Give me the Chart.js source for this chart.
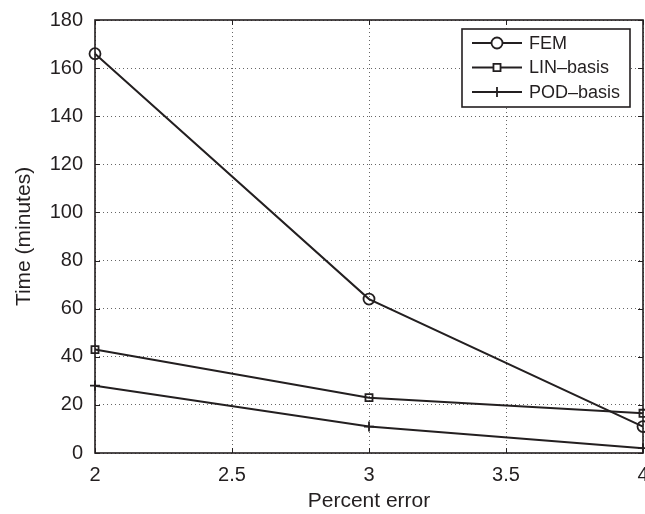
<!DOCTYPE html>
<html>
<head>
<meta charset="utf-8">
<script src="https://cdn.jsdelivr.net/npm/chart.js@4.4.1/dist/chart.umd.min.js"></script>
<style>
  html, body { margin: 0; padding: 0; background: #fff; overflow: hidden; }
  #wrap { width: 645px; height: 514px; }
</style>
</head>
<body>
<div id="wrap"><canvas id="timeChart" width="645" height="514"></canvas></div>
<script>
// values
const percentError = [2, 3, 4];
const femTime = [166, 64, 11];
const linTime = [43, 23, 16.5];
const podTime = [28, 11, 2];
const seriesNames = ['FEM', 'LIN\u2013basis', 'POD\u2013basis'];
const markerStyles = ['circle', 'rect', 'cross'];
const xTicks = [2, 2.5, 3, 3.5, 4];
const yTicks = [0, 20, 40, 60, 80, 100, 120, 140, 160, 180];

const ink = '#231f20';
const fontFam = '"Liberation Sans", Arial, sans-serif';

function toPoints(ys) {
    return percentError.map((x, i) => ({x: x, y: ys[i]}));
}

function makeSet(label, ys, style) {
    return {
        label: label,
        data: toPoints(ys),
        borderColor: ink,
        backgroundColor: 'rgba(0,0,0,0)',
        borderWidth: 2,
        pointStyle: style,
        pointRadius: style === 'circle' ? 5.5 : 5,
        pointBorderWidth: 1.8,
        pointBorderColor: ink,
        pointBackgroundColor: 'rgba(0,0,0,0)',
        tension: 0,
        clip: false
    };
}

// frame, inward ticks and an inside legend, matlab style
const framePlugin = {
    id: 'frame',
    afterDraw(chart) {
        const ctx = chart.ctx;
        const a = chart.chartArea;
        const xs = chart.scales.x, ys = chart.scales.y;
        ctx.save();
        ctx.strokeStyle = ink;
        ctx.lineWidth = 1.6;
        ctx.strokeRect(a.left, a.top, a.right - a.left, a.bottom - a.top);
        ctx.lineWidth = 1;
        ctx.beginPath();
        xTicks.forEach(v => {
            const px = Math.round(xs.getPixelForValue(v)) + 0.5;
            ctx.moveTo(px, a.bottom); ctx.lineTo(px, a.bottom - 5);
            ctx.moveTo(px, a.top); ctx.lineTo(px, a.top + 5);
        });
        yTicks.forEach(v => {
            const py = Math.round(ys.getPixelForValue(v)) + 0.5;
            ctx.moveTo(a.left, py); ctx.lineTo(a.left + 5, py);
            ctx.moveTo(a.right, py); ctx.lineTo(a.right - 5, py);
        });
        ctx.stroke();

        // legend box
        const bx = 462, by = 29, bw = 168, bh = 78;
        ctx.fillStyle = '#fff';
        ctx.fillRect(bx, by, bw, bh);
        ctx.lineWidth = 1.6;
        ctx.strokeRect(bx, by, bw, bh);
        ctx.textBaseline = 'middle';
        chart.data.datasets.forEach((ds, i) => {
            const y = by + 14 + i * 24.5;
            ctx.lineWidth = 2;
            ctx.strokeStyle = ink;
            ctx.beginPath();
            ctx.moveTo(bx + 10, y); ctx.lineTo(bx + 60, y);
            ctx.stroke();
            ctx.fillStyle = '#fff';
            ctx.lineWidth = 1.8;
            Chart.helpers.drawPoint(ctx, {
                pointStyle: ds.pointStyle, radius: ds.pointRadius, rotation: 0, borderWidth: 1.8
            }, bx + 35, y);
            ctx.fillStyle = ink;
            ctx.font = '18px ' + fontFam;
            ctx.fillText(ds.label, bx + 67, y + 1);
        });
        ctx.restore();
    }
};

new Chart(document.getElementById('timeChart').getContext('2d'), {
    type: 'line',
    data: {
        datasets: [
            makeSet(seriesNames[0], femTime, markerStyles[0]),
            makeSet(seriesNames[1], linTime, markerStyles[1]),
            makeSet(seriesNames[2], podTime, markerStyles[2])
        ]
    },
    options: {
        responsive: false,
        animation: false,
        layout: {autoPadding: false, padding: {top: 20, right: 2, left: 0, bottom: 0}},
        plugins: {
            legend: {display: false},
            tooltip: {enabled: false}
        },
        scales: {
            x: {
                type: 'linear',
                min: 2, max: 4,
                afterBuildTicks: s => { s.ticks = xTicks.map(v => ({value: v})); },
                afterFit: s => { s.height = 61; s.paddingLeft = 0; s.paddingRight = 0; },
                grid: {color: '#666', lineWidth: 1, drawTicks: false},
                border: {display: false, dash: [1, 3]},
                ticks: {
                    color: ink, padding: 10, maxRotation: 0, autoSkip: false,
                    font: {family: fontFam, size: 20},
                    callback: v => String(v)
                },
                title: {
                    display: true, text: 'Percent error', color: ink,
                    font: {family: fontFam, size: 21}, padding: {top: 0, bottom: 0}
                }
            },
            y: {
                min: 0, max: 180,
                afterBuildTicks: s => { s.ticks = yTicks.map(v => ({value: v})); },
                afterFit: s => { s.width = 95; s.paddingTop = 0; s.paddingBottom = 0; },
                grid: {color: '#666', lineWidth: 1, drawTicks: false},
                border: {display: false, dash: [1, 3]},
                ticks: {
                    color: ink, padding: 12,
                    font: {family: fontFam, size: 20},
                    callback: v => String(v)
                },
                title: {
                    display: true, text: 'Time (minutes)', color: ink,
                    font: {family: fontFam, size: 21}, padding: {top: 12, bottom: 0}
                }
            }
        }
    },
    plugins: [framePlugin]
});
</script>
</body>
</html>
